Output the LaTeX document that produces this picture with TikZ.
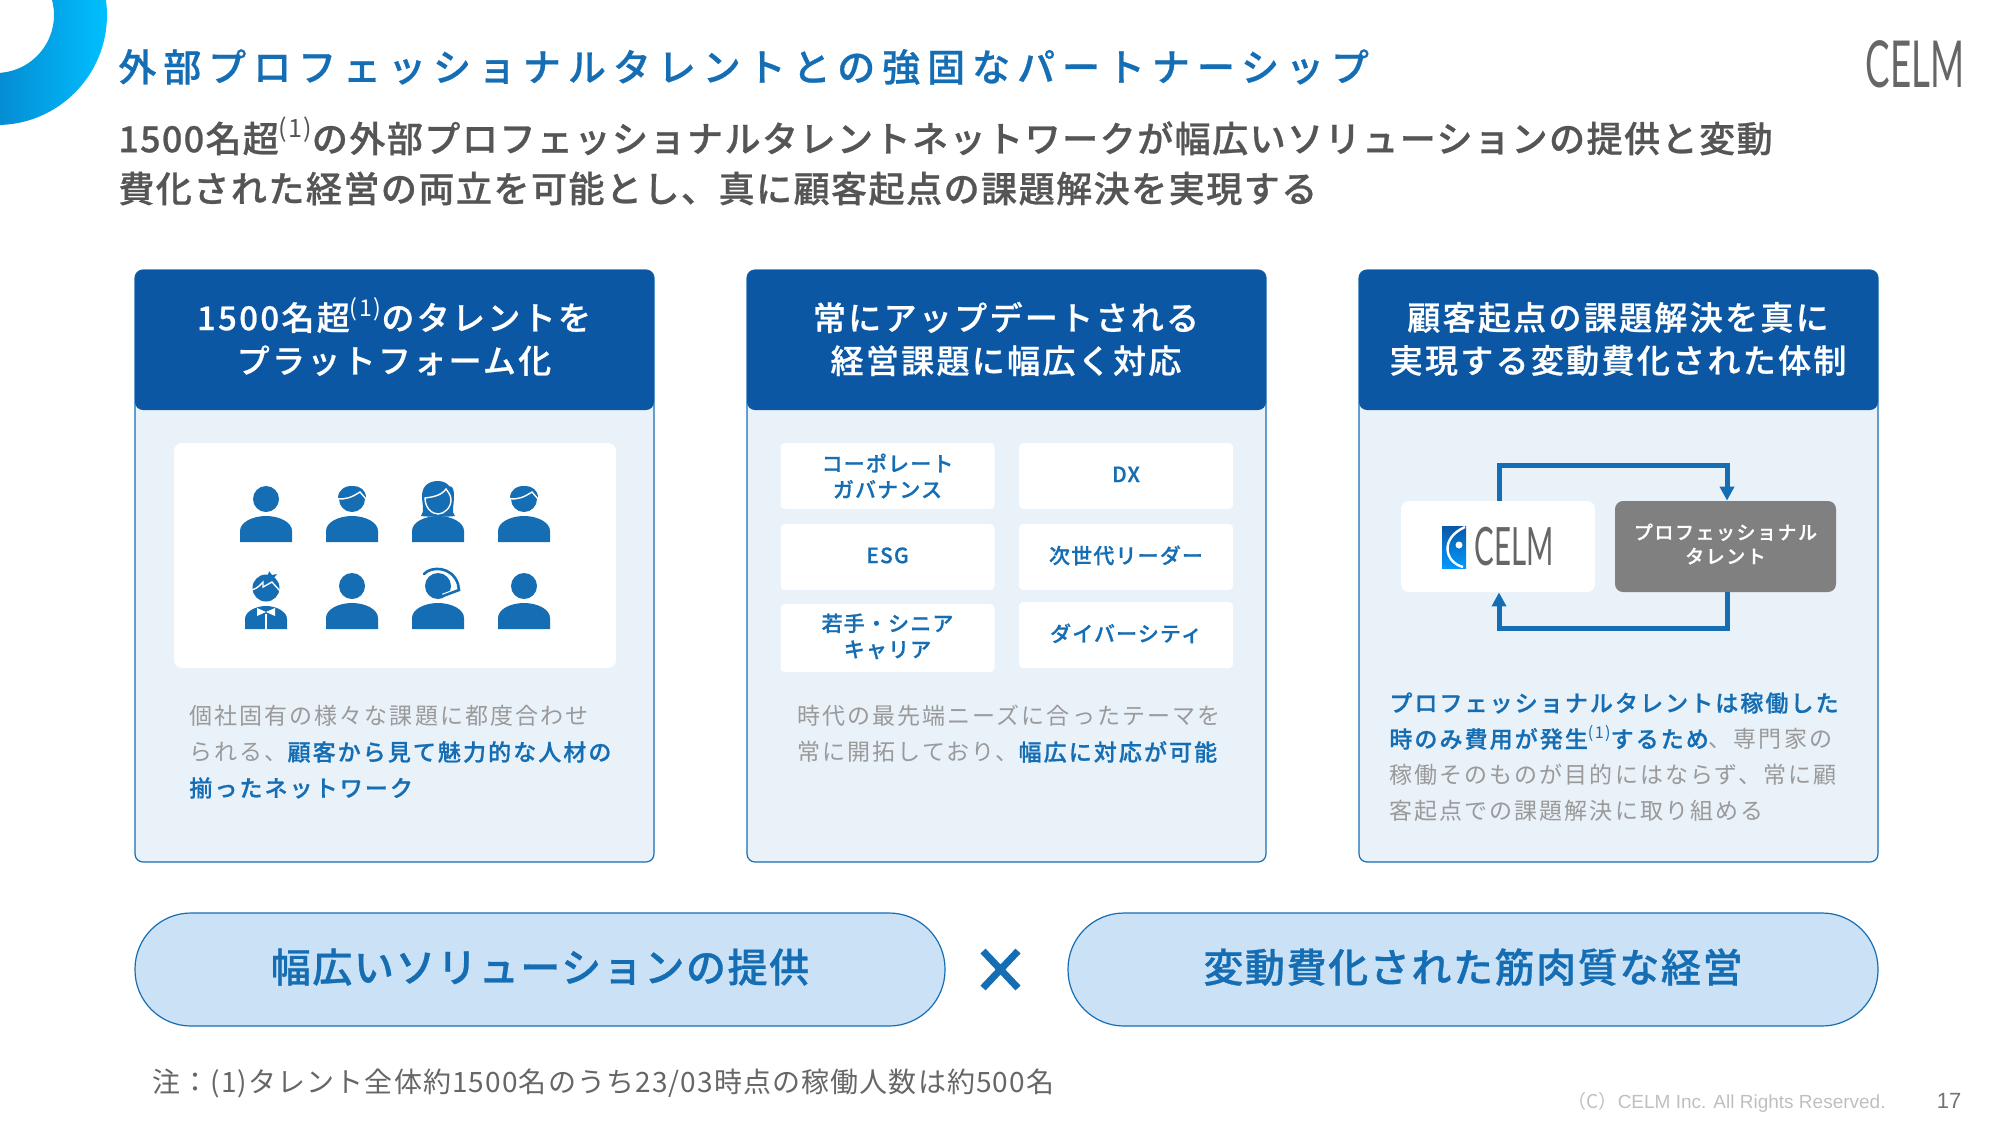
\documentclass[tikz,border=0pt]{standalone}
\usepackage{fontspec}
\setmainfont{Noto Sans CJK JP}[BoldFont={Noto Sans CJK JP Medium}, BoldFeatures={FakeBold=0.7}]
\newfontfamily\logofont{Lato}
\newfontfamily\copyfont{Liberation Sans}
\usetikzlibrary{arrows.meta}

\definecolor{titleblue}{HTML}{156DB3}
\definecolor{headblue}{HTML}{0B57A4}
\definecolor{panelblue}{HTML}{E9F1F9}
\definecolor{pillblue}{HTML}{CBE2F6}
\definecolor{subgray}{HTML}{555555}
\definecolor{bodygray}{HTML}{9A9A9A}
\definecolor{talentgray}{HTML}{808080}
\definecolor{logogray}{HTML}{666666}

\newcommand{\noteone}{\raisebox{.42em}[0pt][0pt]{\scalebox{.7}{\mdseries (1)}}}
\newcommand{\hl}[1]{{\bfseries\color{titleblue}#1}}
\newcommand{\tight}[1]{{\addfontfeatures{LetterSpace=3.5}#1}}
\newcommand{\lift}[2]{\raisebox{#1}[\dimexpr\height-#1][\dimexpr\depth+#1]{#2}}

\tikzset{
  titletext/.style={anchor=west, inner sep=0pt, text=titleblue, font=\fontsize{19}{24}\selectfont\bfseries\addfontfeatures{LetterSpace=18.3}},
  subtext/.style={anchor=west, inner sep=0pt, align=left, text=subgray, font=\fontsize{18}{25}\selectfont\bfseries\addfontfeatures{LetterSpace=4.2}},
  headtext/.style={inner sep=0pt, align=center, text=white, font=\fontsize{16.5}{21.5}\selectfont\bfseries\addfontfeatures{LetterSpace=7}},
  bodytext/.style={anchor=west, inner sep=0pt, align=left, text=bodygray, font=\fontsize{11.5}{18}\selectfont\addfontfeatures{LetterSpace=9}},
  cellbox/.style={fill=white, rounded corners=2pt, minimum width=107pt, inner sep=0pt, align=center, text=titleblue, font=\fontsize{10.5}{13}\selectfont\bfseries\addfontfeatures{LetterSpace=5.5}},
  flowbox/.style={rounded corners=4pt, minimum height=45.5pt, inner sep=0pt, align=center},
  pillbox/.style={draw=titleblue, line width=.6pt, fill=pillblue, rounded corners=28pt, minimum width=405pt, minimum height=56.5pt, inner sep=0pt, text=titleblue, font=\fontsize{20}{24}\selectfont\bfseries\addfontfeatures{LetterSpace=4}},
  flowline/.style={draw=titleblue, line width=2.5pt},
  person/.pic={
    \fill[titleblue] (-26,0) -- (-26,-11) .. controls (-26,-20) and (-13,-26) .. (0,-26)
      .. controls (13,-26) and (26,-20) .. (26,-11) -- (26,0) -- cycle;
    \fill[titleblue] (0,-43) circle (13);
  },
  guyhair/.pic={
    \fill[titleblue] (1,-56) .. controls (8,-56) and (14,-52) .. (14,-44) -- (0,-44) -- cycle;
    \fill[titleblue] (-14,-44) .. controls (-14,-52) and (-7,-56.5) .. (1,-56) -- (1,-44) -- cycle;
    \draw[white, line width=.7pt] (-15,-43.5) .. controls (-6,-42) and (0,-45) .. (8,-50) -- (14,-43);
  }
}

\begin{document}
\begin{tikzpicture}[x=.5pt, y=-.5pt]
  \useasboundingbox (0,0) rectangle (2000,1125);

  % Corner ring
  \path[even odd rule, left color=headblue, right color=titleblue!0!cyan!75!blue] (-3,15) circle (110) (-4,15) circle (58);

  % Heading
  \node[titletext] (title) at (118,67) {外部プロフェッショナルタレントとの強固なパートナーシップ};
  \node[subtext] (subtitle) at (118,163.5) {\tight{1500名超}\noteone の外部プロフェッショナルタレントネットワークが幅広いソリューションの提供と変動\\費化された経営の両立を可能とし、真に顧客起点の課題解決を実現する};
  \node[anchor=center, inner sep=0pt, text=logogray, font=\logofont\fontsize{27}{27}\selectfont, xscale=.68, yscale=1.2] (toplogo) at (1915,64) {CELM};

  % Cards
  \foreach \cardx in {135,747,1359} {
    \draw[titleblue, fill=panelblue, line width=.6pt, rounded corners=4pt] (\cardx,270) rectangle ++(519,592);
    \fill[headblue, rounded corners=4pt] (\cardx,410) -- (\cardx,270) -- ++(519,0) -- ++(0,140) -- cycle;
  }
  \node[headtext] (headA) at (394,339) {1500名超\noteone のタレントを\\プラットフォーム化};
  \node[headtext] (headB) at (1006,339) {常にアップデートされる\\経営課題に幅広く対応};
  \node[headtext] (headC) at (1618,339) {顧客起点の課題解決を真に\\実現する変動費化された体制};

  % People
  \fill[white, rounded corners=4pt] (174,443) rectangle (616,668);
  \foreach \px/\py in {266/542, 352/542, 438/542, 524/542, 352/629, 438/629, 524/629} {
    \pic at (\px,\py) {person};
  }
  \pic at (352,542) {guyhair};
  \pic at (524,542) {guyhair};

  % Woman with long hair
  \begin{scope}[shift={(438,542)}]
    \fill[titleblue] (-17,-26) .. controls (-13,-31) and (-16,-38) .. (-16,-46) .. controls (-16,-57) and (-8,-61) .. (0,-61)
      .. controls (5,-61) and (9,-59) .. (11,-56) .. controls (16,-56) and (16,-50) .. (16,-44) .. controls (16,-37) and (13,-30) .. (17,-26)
      .. controls (10,-25) and (-10,-25) .. (-17,-26) -- cycle;
    \draw[white, fill=titleblue, line width=.7pt] (-13,-44) .. controls (-6,-45) and (3,-46) .. (8,-53) .. controls (10,-50) and (13,-47) .. (13,-42)
      .. controls (13,-34) and (6,-28) .. (0,-28) .. controls (-6,-28) and (-13,-34) .. (-13,-44) -- cycle;
  \end{scope}

  % Boy with bow tie
  \begin{scope}[shift={(266,629)}]
    \fill[titleblue] (-21,0) -- (-21,-10) .. controls (-21,-17) and (-11,-23) .. (0,-23)
      .. controls (11,-23) and (21,-17) .. (21,-10) -- (21,0) -- cycle;
    \fill[titleblue] (0,-41) circle (13.5);
    \fill[titleblue] (2,-54) -- (3,-58) -- (6,-54) -- (11,-55) -- (8,-51) -- cycle;
    \draw[white, line width=.7pt] (-14,-39) .. controls (-8,-41) and (-6,-44) .. (-3,-47) -- (-3,-42) -- (6,-47) -- (14,-38);
    \fill[white] (0,-17) -- (-9,-21) -- (-9,-13) -- cycle (0,-17) -- (9,-21) -- (9,-13) -- cycle;
    \draw[white, line width=.6pt] (0,-15) -- (0,0);
  \end{scope}

  % Headset
  \begin{scope}[shift={(438,629)}]
    \draw[white, line width=2.4pt] (21,-39) -- (5,-33);
    \draw[titleblue, line width=1.3pt, line cap=round] (-14,-55) .. controls (-7,-63) and (14,-63) .. (20,-45) -- (21,-39) -- (5,-33);
  \end{scope}

  \node[bodytext] (textA) at (189,752) {個社固有の様々な課題に都度合わせ\\られる、\hl{顧客から見て魅力的な人材の}\\\hl{揃ったネットワーク}};

  % Topics
  \node[cellbox, minimum height=33pt] (topicA) at (887.5,476) {\lift{0pt}{コーポレート}\\\lift{0pt}{ガバナンス}};
  \node[cellbox, minimum height=33pt] (topicB) at (1126,476) {\lift{.4pt}{DX}};
  \node[cellbox, minimum height=33pt] (topicC) at (887.5,557) {\lift{.4pt}{ESG}};
  \node[cellbox, minimum height=33pt] (topicD) at (1126,557) {\lift{.4pt}{次世代リーダー}};
  \node[cellbox, minimum height=34pt] (topicE) at (887.5,638) {\lift{.4pt}{若手・シニア}\\\lift{.4pt}{キャリア}};
  \node[cellbox, minimum height=33pt] (topicF) at (1126,635) {\lift{.4pt}{ダイバーシティ}};
  \node[bodytext] (textB) at (797,734) {時代の最先端ニーズに合ったテーマを\\常に開拓しており、\hl{幅広に対応が可能}};

  % Flow between the two boxes
  \node[flowbox, fill=white, minimum width=97pt] (celm) at (1498,546.5) {};
  \node[flowbox, fill=talentgray, minimum width=110.5pt] (talent) at (1725.5,546.5) {};
  \node[inner sep=0pt, align=center, text=white, font=\fontsize{9.5}{12}\selectfont\bfseries\addfontfeatures{LetterSpace=8}] (talentlabel) at (1725.5,544) {プロフェッショナル\\タレント};
  \draw[flowline, -{Triangle[width=7pt,length=7pt]}] ([xshift=.5pt]celm.north) -- ++(0,-35) -| ([xshift=.75pt]talent.north);
  \draw[flowline, -{Triangle[width=7pt,length=7pt]}] ([xshift=.75pt]talent.south) -- ++(0,36) -| ([xshift=.5pt]celm.south);
  \shade[top color=headblue, bottom color=cyan!60!blue] (1442,526) rectangle (1466,568);
  \draw[white, line width=1.2pt] (1465,527) .. controls (1440,538) and (1444,562) .. (1463,567);
  \fill[white] (1459,545) circle (3.5);
  \node[inner sep=0pt, text=logogray, font=\logofont\fontsize{23}{23}\selectfont, xscale=.64, yscale=1.15] (celmlogo) at (1514,547) {CELM};

  \node[bodytext] (textC) at (1389,757) {\hl{プロフェッショナルタレントは稼働した}\\\hl{時のみ費用が発生\noteone するため}、専門家の\\稼働そのものが目的にはならず、常に顧\\客起点での課題解決に取り組める};

  % Bottom pills
  \node[pillbox] (pillA) at (540,969.5) {\lift{.6pt}{幅広いソリューションの提供}};
  \node[pillbox] (pillB) at (1473,969.5) {\lift{.6pt}{変動費化された筋肉質な経営}};
  \draw[titleblue, line width=3.5pt] (983,951) -- (1018,988) (1018,951) -- (983,988);

  % Footer
  \node[anchor=west, inner sep=0pt, text=subgray!90, font=\fontsize{14}{16}\selectfont\addfontfeatures{LetterSpace=4}] (footnote) at (152,1083) {注：(1)タレント全体約1500名のうち23/03時点の稼働人数は約500名};
  \node[anchor=east, inner sep=0pt, text=black!25, font=\fontsize{9.5}{12}\selectfont] (copyright) at (1886,1102) {（C）{\copyfont CELM Inc. All Rights Reserved.}};
  \node[inner sep=0pt, text=black!55, font=\copyfont\fontsize{11}{12}\selectfont] (pageno) at (1949,1101) {17};
\end{tikzpicture}
\end{document}
